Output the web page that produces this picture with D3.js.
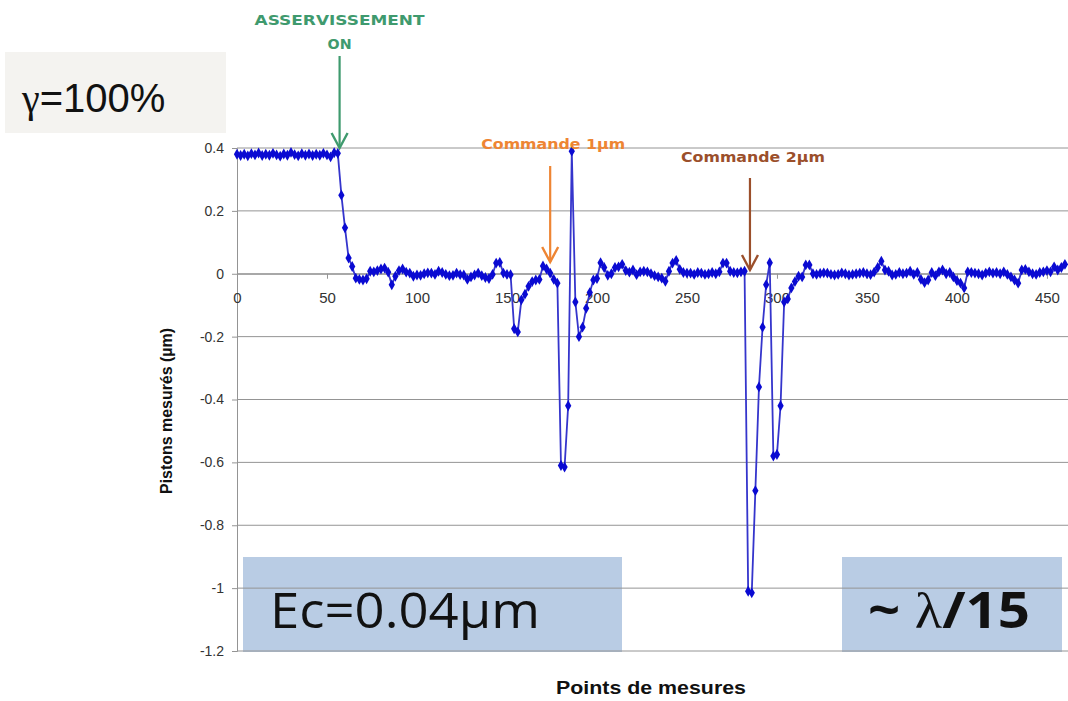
<!DOCTYPE html>
<html>
<head>
<meta charset="utf-8">
<script src="https://cdn.jsdelivr.net/npm/d3@7"></script>
<style>
  html, body { margin: 0; padding: 0; background: #ffffff; }
  svg { display: block; }
</style>
</head>
<body>
<svg id="chart" width="1068" height="701"></svg>
<script>
// ---------- data ----------
const sampleStep = 2; // measurement index spacing
const pistonValues = [
  0.380, 0.376, 0.380, 0.375, 0.382, 0.378, 0.384, 0.376, 0.380, 0.377,
  0.383, 0.378, 0.374, 0.381, 0.377, 0.386, 0.379, 0.375, 0.382, 0.377,
  0.381, 0.376, 0.380, 0.377, 0.383, 0.378, 0.372, 0.385, 0.383, 0.250,
  0.146, 0.050, 0.023, -0.014, -0.018, -0.020, -0.016, 0.008, 0.006, 0.010,
  0.015, 0.018, 0.005, -0.035, -0.008, 0.010, 0.015, 0.005, 0.002, -0.008,
  -0.004, -0.005, 0.000, 0.003, 0.002, -0.002, 0.008, 0.004, -0.002, -0.006,
  -0.005, 0.002, -0.003, -0.004, -0.018, -0.010, -0.004, 0.002, -0.006, -0.012,
  -0.015, -0.002, 0.034, 0.036, 0.002, -0.002, -0.003, -0.175, -0.185, -0.083,
  -0.065, -0.040, -0.025, -0.020, -0.018, 0.025, 0.015, 0.002, -0.018, -0.030,
  -0.610, -0.615, -0.420, 0.390, -0.090, -0.200, -0.170, -0.110, -0.060, -0.020,
  -0.015, 0.035, 0.020, -0.005, 0.000, 0.020, 0.022, 0.030, 0.010, 0.005,
  0.012, -0.003, 0.006, 0.008, 0.006, 0.000, -0.006, -0.010, -0.014, -0.024,
  0.008, 0.034, 0.042, 0.014, 0.004, 0.002, 0.002, -0.002, 0.004, 0.002,
  -0.002, 0.000, 0.004, 0.000, 0.006, 0.034, 0.034, 0.008, 0.004, 0.003,
  0.006, 0.008, -1.010, -1.015, -0.690, -0.360, -0.170, -0.035, 0.035, -0.580,
  -0.575, -0.420, -0.090, -0.080, -0.045, -0.025, -0.008, -0.010, 0.028, 0.028,
  0.000, -0.002, 0.001, 0.003, 0.002, -0.002, -0.004, -0.002, 0.003, 0.000,
  -0.004, -0.002, 0.000, 0.002, 0.004, 0.000, -0.003, 0.005, 0.020, 0.040,
  0.012, 0.008, -0.004, -0.002, 0.004, 0.000, 0.002, 0.008, -0.002, 0.004,
  -0.018, -0.028, -0.020, 0.004, -0.006, 0.006, 0.012, 0.000, 0.004, -0.010,
  -0.022, -0.030, -0.045, 0.006, 0.004, 0.002, 0.000, -0.004, 0.002, 0.006,
  0.002, 0.004, 0.000, 0.006, -0.002, -0.010, -0.020, -0.030, 0.012, 0.014,
  0.006, 0.000, -0.002, 0.004, 0.006, 0.010, 0.006, 0.022, 0.012, 0.020,
  0.030
];
const xTicks = [0, 50, 100, 150, 200, 250, 300, 350, 400, 450];
const yTicks = [0.4, 0.2, 0, -0.2, -0.4, -0.6, -0.8, -1, -1.2];
const annotations = [
  { label: ["ASSERVISSEMENT", "ON"], x: 57, color: "#3f9a6e" },
  { label: ["Commande 1µm"], x: 174, color: "#ee8533" },
  { label: ["Commande 2µm"], x: 285, color: "#9b4f2b" }
];
const xTitle = "Points de mesures";
const yTitle = "Pistons mesurés (µm)";

// ---------- layout ----------
const svg = d3.select("#chart");
const plotL = 237, plotR = 1068, plotT = 148, plotB = 651;
const x = d3.scaleLinear().domain([0, 461.7]).range([plotL, plotR]);
const y = d3.scaleLinear().domain([-1.2, 0.4]).range([plotB, plotT]);

const data = pistonValues.map((v, i) => ({ x: i * sampleStep, y: v }));
const sans = "Liberation Sans, Arial, sans-serif";

// gamma box
svg.append("rect").attr("x", 5).attr("y", 52).attr("width", 221).attr("height", 81)
  .attr("fill", "#f4f3f0");
const gt = svg.append("text").attr("x", 22).attr("y", 112)
  .attr("font-family", sans).attr("font-size", 40).attr("fill", "#111");
gt.append("tspan").attr("font-family", "Liberation Serif, Times New Roman, serif").text("γ");
gt.append("tspan").text("=100%");

// annotation boxes (behind grid)
svg.append("rect").attr("x", 243).attr("y", 557).attr("width", 379).attr("height", 95)
  .attr("fill", "#b9cce4");
svg.append("rect").attr("x", 842).attr("y", 557).attr("width", 220).attr("height", 95)
  .attr("fill", "#b9cce4");

// gridlines
svg.append("g").selectAll("line").data(yTicks).join("line")
  .attr("x1", plotL).attr("x2", plotR)
  .attr("y1", d => y(d)).attr("y2", d => y(d))
  .attr("stroke", "#949494").attr("stroke-width", 1);

// y axis
const yAxis = d3.axisLeft(y).tickValues(yTicks).tickSize(5).tickPadding(8)
  .tickFormat(d => String(Math.round(d * 10) / 10));
const gy = svg.append("g").attr("transform", `translate(${plotL},0)`).call(yAxis);
gy.select(".domain").attr("stroke", "#949494");
gy.selectAll(".tick line").attr("stroke", "#949494");
gy.selectAll("text").attr("font-family", sans)
  .attr("font-size", 14).attr("fill", "#333");

// x axis at zero
const xAxis = d3.axisBottom(x).tickValues(xTicks).tickSize(5).tickPadding(14);
const gx = svg.append("g").attr("transform", `translate(0,${y(0)})`).call(xAxis);
gx.select(".domain").attr("stroke", "#949494");
gx.selectAll(".tick line").attr("stroke", "#949494");
gx.selectAll("text").attr("font-family", sans)
  .attr("font-size", 15).attr("fill", "#333");

// box texts
svg.append("text").attr("x", 270).attr("y", 628)
  .attr("font-family", "Open Sans, Liberation Sans, sans-serif").attr("font-size", 50)
  .attr("textLength", 270).attr("lengthAdjust", "spacingAndGlyphs")
  .attr("fill", "#111").text("Ec=0.04µm");
const lt = svg.append("text").attr("x", 868).attr("y", 628)
  .attr("font-family", "Open Sans, Liberation Sans, sans-serif").attr("font-size", 50)
  .attr("font-weight", "bold").attr("fill", "#111")
  .attr("textLength", 162).attr("lengthAdjust", "spacingAndGlyphs");
lt.append("tspan").text("~ ");
lt.append("tspan").attr("font-family", "Liberation Serif, serif").attr("font-weight", "normal").text("λ");
lt.append("tspan").text("/15");

// series line
const line = d3.line().x(d => x(d.x)).y(d => y(d.y));
svg.append("path").datum(data).attr("d", line)
  .attr("fill", "none").attr("stroke", "#3535cc").attr("stroke-width", 1.8);
svg.append("g").selectAll("path").data(data).join("path")
  .attr("transform", d => `translate(${x(d.x)},${y(d.y)})`)
  .attr("d", d3.symbol(d3.symbolDiamond, 34))
  .attr("fill", "#0a0ad2");

// axis titles
svg.append("text").attr("x", 651).attr("y", 694).attr("text-anchor", "middle")
  .attr("font-family", sans).attr("font-size", 18)
  .attr("textLength", 190).attr("lengthAdjust", "spacingAndGlyphs")
  .attr("font-weight", "bold").attr("fill", "#111").text(xTitle);
svg.append("text").attr("transform", "translate(172,411) rotate(-90)")
  .attr("text-anchor", "middle")
  .attr("font-family", sans).attr("font-size", 16)
  .attr("textLength", 166).attr("lengthAdjust", "spacingAndGlyphs")
  .attr("font-weight", "bold").attr("fill", "#111").text(yTitle);

// annotations with arrows
const arrowSpecs = [
  { textY: [25, 49], widths: [170, 24], y1: 56, y2: 148 },
  { textY: [149], widths: [144], y1: 166, y2: 262 },
  { textY: [162], widths: [144], y1: 178, y2: 270 }
];
annotations.forEach((a, k) => {
  const s = arrowSpecs[k];
  const ax = x(a.x);
  a.label.forEach((t, j) => {
    svg.append("text").attr("x", ax + (k === 0 ? 0 : 3)).attr("y", s.textY[j])
      .attr("text-anchor", "middle")
      .attr("font-family", "DejaVu Sans, sans-serif").attr("font-size", 14)
      .attr("textLength", s.widths[j]).attr("lengthAdjust", "spacingAndGlyphs")
      .attr("font-weight", "bold").attr("fill", a.color).text(t);
  });
  svg.append("line").attr("x1", ax).attr("x2", ax).attr("y1", s.y1).attr("y2", s.y2)
    .attr("stroke", a.color).attr("stroke-width", 2.2);
  svg.append("path")
    .attr("d", `M${ax - 8},${s.y2 - 15} L${ax},${s.y2} L${ax + 8},${s.y2 - 15}`)
    .attr("fill", "none").attr("stroke", a.color).attr("stroke-width", 2.4);
});
</script>
</body>
</html>
